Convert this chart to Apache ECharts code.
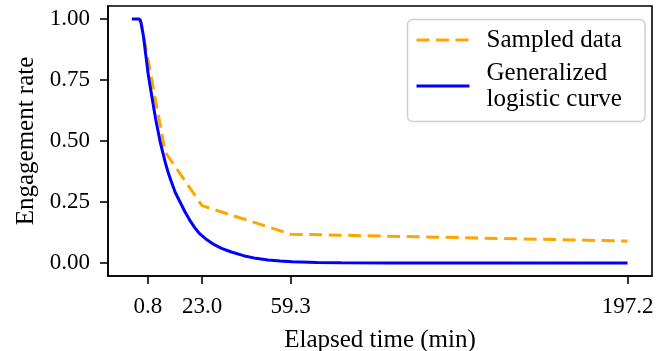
<!DOCTYPE html>
<html>
<head>
<meta charset="utf-8">
<script src="https://cdn.jsdelivr.net/npm/echarts@6/dist/echarts.min.js"></script>
<style>
  html, body { margin: 0; padding: 0; background: #fff; }
  #chart { width: 668px; height: 351px; }
</style>
</head>
<body>
<div id="chart"></div>
<script>
// x tick positions (minutes) and y ticks
const xTicks = [0.8, 23.0, 59.3, 197.2];
const yTicks = [0, 0.25, 0.5, 0.75, 1.0];

// sampled engagement
const sampledTime = [-2.2, 7.9, 23.0, 59.3, 197.2];
const sampledRate = [1.0, 0.455, 0.235, 0.118, 0.09];

// fitted generalized logistic curve, read point by point
const curveTime = [-5.75, -2.6, -2.0, -1.0, 0, 1, 2, 3, 4, 5, 6, 7, 8, 9, 10, 12, 14, 16, 18, 20, 22, 25, 28, 31, 35, 40, 45, 50, 55, 60, 70, 80, 100, 150, 197.2];
const curveRate = [1.0, 1.0, 0.985, 0.93, 0.85, 0.77, 0.71, 0.65, 0.59, 0.54, 0.49, 0.45, 0.41, 0.375, 0.345, 0.29, 0.25, 0.21, 0.175, 0.145, 0.12, 0.095, 0.075, 0.06, 0.045, 0.03, 0.019, 0.012, 0.008, 0.005, 0.002, 0.001, 0, 0, 0];

const pair = (xs, ys) => xs.map((x, i) => [x, ys[i]]);

const FONT = '"Liberation Serif", "DejaVu Serif", serif';
const chart = echarts.init(document.getElementById('chart'));

chart.setOption({
  animation: false,
  grid: {
    left: 108,
    right: 16,
    top: 6,
    bottom: 75,
    outerBoundsMode: 'none',
    show: true,
    borderColor: '#000',
    borderWidth: 1.6,
  },
  legend: {
    orient: 'vertical',
    left: 407.5,
    top: 19.5,
    padding: [7.5, 9.5, 9.5, 7.5],
    itemGap: 7,
    itemWidth: 53,
    itemHeight: 14,
    itemStyle: { opacity: 0 },
    backgroundColor: 'rgba(255,255,255,0.8)',
    borderColor: '#cfcfcf',
    borderWidth: 1.5,
    borderRadius: 5,
    textStyle: {
      fontFamily: FONT,
      fontSize: 25,
      lineHeight: 26,
      color: '#000',
      padding: [0, 0, 0, 12],
      width: 149,
    },
    data: [
      { name: 'Sampled data', lineStyle: { width: 3, type: [13, 6.5] } },
      { name: 'Generalized\nlogistic curve', lineStyle: { width: 3 } },
    ],
  },
  xAxis: {
    type: 'value',
    min: -15.5,
    max: 207.2,
    name: 'Elapsed time (min)',
    nameLocation: 'middle',
    nameGap: 52,
    nameTextStyle: { fontFamily: FONT, fontSize: 25, color: '#000' },
    axisLine: { show: true, onZero: false, lineStyle: { color: '#000', width: 1.6 } },
    axisTick: { show: true, length: 8, lineStyle: { color: '#000', width: 1.6 }, customValues: xTicks },
    axisLabel: {
      margin: 19,
      fontFamily: FONT,
      fontSize: 23,
      color: '#000',
      customValues: xTicks,
      formatter: (v) => Number(v).toFixed(1),
    },
    splitLine: { show: false },
  },
  yAxis: {
    type: 'value',
    min: -0.0533,
    max: 1.0533,
    name: 'Engagement rate',
    nameLocation: 'middle',
    nameGap: 65,
    nameTextStyle: { fontFamily: FONT, fontSize: 25, color: '#000' },
    axisLine: { show: true, onZero: false, lineStyle: { color: '#000', width: 1.6 } },
    axisTick: { show: true, length: 8, lineStyle: { color: '#000', width: 1.6 }, customValues: yTicks },
    axisLabel: {
      margin: 18,
      fontFamily: FONT,
      fontSize: 23,
      color: '#000',
      customValues: yTicks,
      formatter: (v) => Number(v).toFixed(2),
    },
    splitLine: { show: false },
  },
  series: [
    {
      name: 'Sampled data',
      type: 'line',
      symbol: 'none',
      color: '#ffa500',
      lineStyle: { width: 3, type: [13, 6.5] },
      data: pair(sampledTime, sampledRate),
    },
    {
      name: 'Generalized\nlogistic curve',
      type: 'line',
      symbol: 'none',
      color: '#0000ff',
      lineStyle: { width: 3 },
      data: pair(curveTime, curveRate),
    },
  ],
});
</script>
</body>
</html>
